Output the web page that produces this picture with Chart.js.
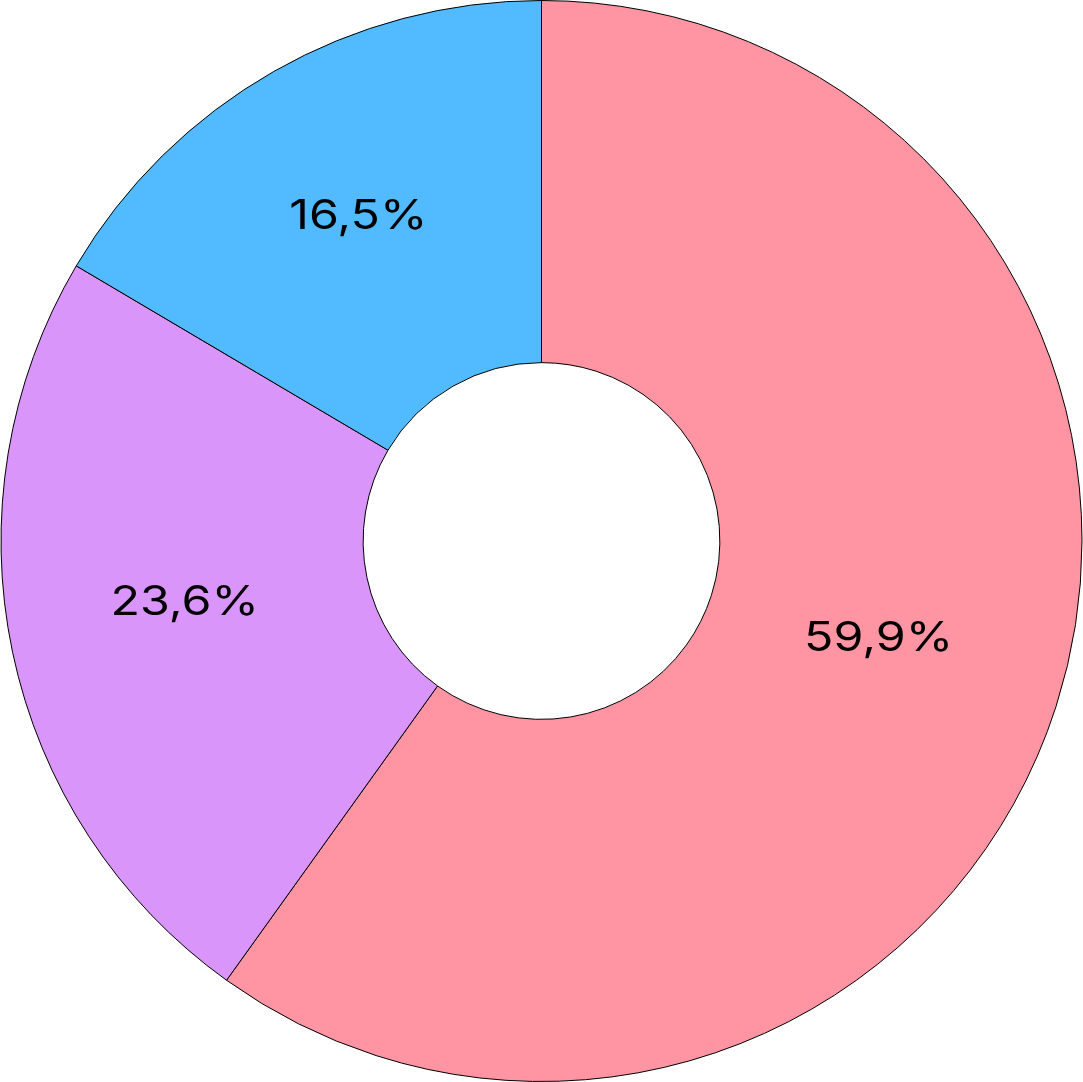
<!DOCTYPE html>
<html>
<head>
<meta charset="utf-8">
<script src="https://cdn.jsdelivr.net/npm/chart.js@4/dist/chart.umd.min.js"></script>
<style>
html,body{margin:0;padding:0;background:#fff;}
#wrap{width:1083px;height:1082px;}
</style>
</head>
<body>
<div id="wrap"><canvas id="c" width="1083" height="1082"></canvas></div>
<script>
const categories = ["A", "B", "C"];
const values = [59.9, 23.6, 16.5];
const valueLabels = ["59,9%", "23,6%", "16,5%"];
const colors = ["#FF95A3", "#D995FA", "#52BBFF"];

const labelPlugin = {
  id: 'sliceLabels',
  afterDatasetsDraw(chart) {
    const ctx = chart.ctx;
    const meta = chart.getDatasetMeta(0);
    meta.data.forEach((arc, i) => {
      const p = arc.tooltipPosition();
      ctx.save();
      ctx.font = '41px Inter, "Liberation Sans", Arial, sans-serif';
      ctx.fillStyle = '#000';
      ctx.textAlign = 'center';
      ctx.textBaseline = 'alphabetic';
      ctx.translate(p.x - 5, p.y);
      ctx.scale(1.18, 1);
      ctx.fillText(valueLabels[i], 0, 0);
      ctx.restore();
    });
  }
};

new Chart(document.getElementById('c'), {
  type: 'doughnut',
  data: {
    labels: categories,
    datasets: [{
      data: values,
      backgroundColor: colors,
      borderColor: '#000',
      borderWidth: 1
    }]
  },
  options: {
    responsive: false,
    animation: false,
    cutout: '33%',
    layout: { padding: 0 },
    plugins: { legend: { display: false }, tooltip: { enabled: false } }
  },
  plugins: [labelPlugin]
});
</script>
</body>
</html>
